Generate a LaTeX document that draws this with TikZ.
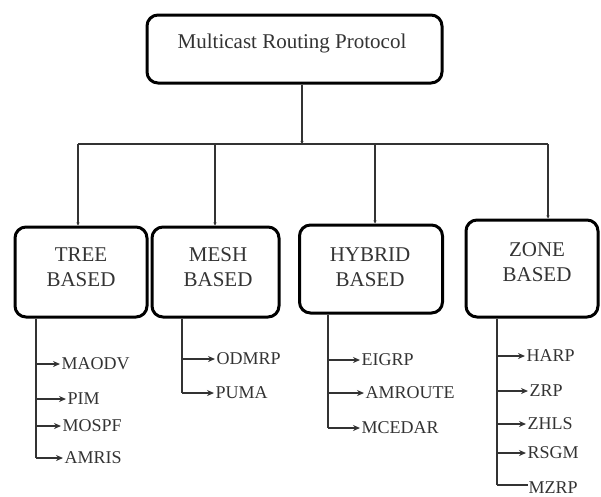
\documentclass[tikz,border=0pt]{standalone}
\usepackage{fontspec}
\setmainfont{Liberation Serif}
\usetikzlibrary{arrows.meta}
\begin{document}
\begin{tikzpicture}[x=1pt,y=-1pt,
  box/.style={draw=black,line width=3pt,rounded corners=11pt,fill=white},
  boxtext/.style={font=\fontsize{21}{25}\selectfont,text=black!80,align=center},
  leaf/.style={anchor=west,inner xsep=1.5pt,inner ysep=0pt,font=\fontsize{18}{20}\selectfont,text=black!80},
  conn/.style={draw=black!80,line width=1.3pt},
  arr/.style={conn,-{Stealth[length=7pt,width=6pt]}},
  drop/.style={conn,-{Stealth[length=3pt,width=3pt]}}]
\useasboundingbox (0,0) rectangle (601,496);
% top box
\node[box,minimum width=295pt,minimum height=68pt] (top) at (294.5,49) {};
\node[boxtext] (toptext) at (292,43) {Multicast Routing Protocol};
% category boxes
\node[box,minimum width=132pt,minimum height=90pt] (tree) at (81,272) {};
\node[boxtext] (treetxt) at (81,267.5) {TREE\\BASED};
\node[box,minimum width=127pt,minimum height=90pt] (mesh) at (215.5,272) {};
\node[boxtext] (meshtxt) at (218,267.5) {MESH\\BASED};
\node[box,minimum width=143pt,minimum height=88pt] (hybrid) at (371,269) {};
\node[boxtext] (hybridtxt) at (370,267.5) {HYBRID\\BASED};
\node[box,minimum width=132pt,minimum height=97pt] (zone) at (532,268.5) {};
\node[boxtext] (zonetxt) at (537,262.5) {ZONE\\BASED};
% top connectors
\coordinate (j) at (302,144);
\coordinate (jl) at (78,144);
\coordinate (jm) at (215,144);
\coordinate (jh) at (375,144);
\coordinate (jr) at (548,144);
\draw[drop] (top.south -| j) -- (j);
\draw[conn] (jl) -- (jr);
\draw[drop] (jl) -- (jl |- tree.north);
\draw[drop] (jm) -- (jm |- mesh.north);
\draw[drop] (jh) -- (jh |- hybrid.north);
\draw[drop] (jr) -- (jr |- zone.north);
% tree leaves
\node[leaf] (maodv) at (60,364) {MAODV};
\node[leaf] (pim) at (66,399) {PIM};
\node[leaf] (mospf) at (61,426) {MOSPF};
\node[leaf] (amris) at (63,458) {AMRIS};
\coordinate (tb) at (36,458);
\draw[conn] (tree.south -| tb) -- (tb);
\draw[arr] (tb |- maodv.west) -- (maodv.west);
\draw[arr] (tb |- pim.west) -- (pim.west);
\draw[arr] (tb |- mospf.west) -- (mospf.west);
\draw[arr] (tb) -- (amris.west);
% mesh leaves
\node[leaf] (odmrp) at (215,359) {ODMRP};
\node[leaf] (puma) at (214,393) {PUMA};
\coordinate (mb) at (182,393);
\draw[conn] (mesh.south -| mb) -- (mb);
\draw[arr] (mb |- odmrp.west) -- (odmrp.west);
\draw[arr] (mb) -- (puma.west);
% hybrid leaves
\node[leaf] (eigrp) at (360,360) {EIGRP};
\node[leaf] (amroute) at (364,393) {AMROUTE};
\node[leaf] (mcedar) at (360,428) {MCEDAR};
\coordinate (hb) at (328,428);
\draw[conn] (hybrid.south -| hb) -- (hb);
\draw[arr] (hb |- eigrp.west) -- (eigrp.west);
\draw[arr] (hb |- amroute.west) -- (amroute.west);
\draw[arr] (hb) -- (mcedar.west);
% zone leaves
\node[leaf] (harp) at (525,356) {HARP};
\node[leaf] (zrp) at (528,391) {ZRP};
\node[leaf] (zhls) at (526,424) {ZHLS};
\node[leaf] (rsgm) at (526,453) {RSGM};
\node[leaf] (mzrp) at (527,487.5) {MZRP};
\coordinate (zb) at (497,485);
\coordinate (ze) at (528,485);
\draw[conn] (zone.south -| zb) -- (zb);
\draw[arr] (zb |- harp.west) -- (harp.west);
\draw[arr] (zb |- zrp.west) -- (zrp.west);
\draw[arr] (zb |- zhls.west) -- (zhls.west);
\draw[arr] (zb |- rsgm.west) -- (rsgm.west);
\draw[conn] (zb) -- (ze);
\end{tikzpicture}
\end{document}
